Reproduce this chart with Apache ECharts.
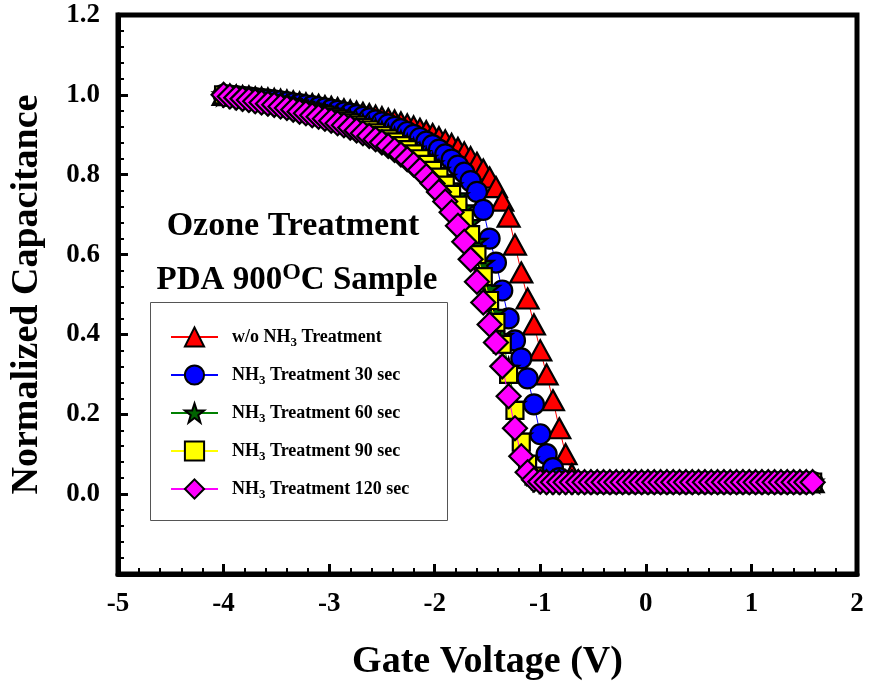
<!DOCTYPE html>
<html>
<head>
<meta charset="utf-8">
<script src="https://cdn.jsdelivr.net/npm/echarts@6/dist/echarts.min.js"></script>
<style>html,body{margin:0;padding:0;background:#fff}#c{width:869px;height:686px}</style>
</head>
<body>
<div id="c"></div>
<script>
// Gate voltage sweep (V)
const voltage = [
 -4.00,-3.94,-3.88,-3.82,-3.76,-3.70,-3.64,-3.58,-3.52,-3.46,
 -3.40,-3.34,-3.28,-3.22,-3.16,-3.10,-3.04,-2.98,-2.92,-2.86,
 -2.80,-2.74,-2.68,-2.62,-2.56,-2.50,-2.44,-2.38,-2.32,-2.26,
 -2.20,-2.14,-2.08,-2.02,-1.96,-1.90,-1.84,-1.78,-1.72,-1.66,
 -1.60,-1.54,-1.48,-1.42,-1.36,-1.30,-1.24,-1.18,-1.12,-1.06,
 -1.00,-0.94,-0.88,-0.82,-0.76,-0.70,-0.64,-0.58,-0.52,-0.46,
 -0.40,-0.34,-0.28,-0.22,-0.16,-0.10,-0.04,0.02,0.08,0.14,
 0.20,0.26,0.32,0.38,0.44,0.50,0.56,0.62,0.68,0.74,
 0.80,0.86,0.92,0.98,1.04,1.10,1.16,1.22,1.28,1.34,
 1.40,1.46,1.52,1.58
];
// Normalized capacitance, w/o NH3 treatment
const capWithout = [
 1.000,0.999,0.998,0.997,0.996,0.994,0.993,0.991,0.990,0.988,
 0.986,0.984,0.981,0.979,0.977,0.975,0.972,0.970,0.967,0.964,
 0.961,0.958,0.955,0.952,0.948,0.944,0.940,0.936,0.931,0.926,
 0.921,0.915,0.909,0.902,0.894,0.886,0.877,0.867,0.856,0.844,
 0.830,0.813,0.793,0.769,0.735,0.695,0.625,0.555,0.490,0.425,
 0.360,0.300,0.235,0.165,0.100,0.050,0.034,0.031,0.030,0.030,
 0.030,0.030,0.030,0.030,0.030,0.030,0.030,0.030,0.030,0.030,
 0.030,0.030,0.030,0.030,0.030,0.030,0.030,0.030,0.030,0.030,
 0.030,0.030,0.030,0.030,0.030,0.030,0.030,0.030,0.030,0.030,
 0.030,0.030,0.030,0.030
];
// NH3 treatment 30 sec
const cap30 = [
 1.000,0.998,0.997,0.995,0.994,0.992,0.990,0.988,0.986,0.984,
 0.982,0.979,0.977,0.974,0.972,0.969,0.966,0.963,0.960,0.956,
 0.953,0.949,0.945,0.941,0.936,0.931,0.926,0.920,0.914,0.907,
 0.900,0.892,0.883,0.874,0.863,0.851,0.838,0.823,0.805,0.784,
 0.757,0.712,0.640,0.580,0.510,0.440,0.385,0.340,0.290,0.225,
 0.150,0.100,0.065,0.040,0.032,0.030,0.030,0.030,0.030,0.030,
 0.030,0.030,0.030,0.030,0.030,0.030,0.030,0.030,0.030,0.030,
 0.030,0.030,0.030,0.030,0.030,0.030,0.030,0.030,0.030,0.030,
 0.030,0.030,0.030,0.030,0.030,0.030,0.030,0.030,0.030,0.030,
 0.030,0.030,0.030,0.030
];
// NH3 treatment 60 sec
const cap60 = [
 1.000,0.998,0.996,0.993,0.991,0.988,0.986,0.983,0.980,0.977,
 0.974,0.971,0.968,0.964,0.961,0.957,0.953,0.949,0.945,0.940,
 0.935,0.930,0.925,0.919,0.913,0.906,0.899,0.891,0.883,0.874,
 0.864,0.853,0.841,0.827,0.811,0.793,0.772,0.747,0.717,0.680,
 0.633,0.578,0.515,0.455,0.395,0.315,0.225,0.145,0.085,0.050,
 0.035,0.031,0.030,0.030,0.030,0.030,0.030,0.030,0.030,0.030,
 0.030,0.030,0.030,0.030,0.030,0.030,0.030,0.030,0.030,0.030,
 0.030,0.030,0.030,0.030,0.030,0.030,0.030,0.030,0.030,0.030,
 0.030,0.030,0.030,0.030,0.030,0.030,0.030,0.030,0.030,0.030,
 0.030,0.030,0.030,0.030
];
// NH3 treatment 90 sec
const cap90 = [
 1.000,0.997,0.995,0.992,0.989,0.987,0.984,0.981,0.978,0.975,
 0.972,0.968,0.965,0.961,0.957,0.953,0.949,0.944,0.940,0.935,
 0.930,0.924,0.918,0.912,0.905,0.898,0.890,0.882,0.873,0.863,
 0.852,0.840,0.826,0.811,0.794,0.774,0.751,0.724,0.690,0.650,
 0.600,0.545,0.485,0.430,0.375,0.300,0.210,0.130,0.075,0.045,
 0.033,0.030,0.030,0.030,0.030,0.030,0.030,0.030,0.030,0.030,
 0.030,0.030,0.030,0.030,0.030,0.030,0.030,0.030,0.030,0.030,
 0.030,0.030,0.030,0.030,0.030,0.030,0.030,0.030,0.030,0.030,
 0.030,0.030,0.030,0.030,0.030,0.030,0.030,0.030,0.030,0.030,
 0.030,0.030,0.030,0.030
];
// NH3 treatment 120 sec
const cap120 = [
 1.000,0.996,0.993,0.990,0.987,0.984,0.981,0.978,0.975,0.971,
 0.967,0.963,0.958,0.954,0.949,0.945,0.940,0.935,0.929,0.924,
 0.918,0.911,0.904,0.897,0.889,0.881,0.872,0.862,0.851,0.839,
 0.826,0.812,0.796,0.778,0.757,0.733,0.706,0.672,0.632,0.588,
 0.532,0.480,0.425,0.380,0.320,0.245,0.165,0.095,0.055,0.036,
 0.031,0.030,0.030,0.030,0.030,0.030,0.030,0.030,0.030,0.030,
 0.030,0.030,0.030,0.030,0.030,0.030,0.030,0.030,0.030,0.030,
 0.030,0.030,0.030,0.030,0.030,0.030,0.030,0.030,0.030,0.030,
 0.030,0.030,0.030,0.030,0.030,0.030,0.030,0.030,0.030,0.030,
 0.030,0.030,0.030,0.030
];
const seriesNames = ['w/o NH3 Treatment','NH3 Treatment 30 sec','NH3 Treatment 60 sec','NH3 Treatment 90 sec','NH3 Treatment 120 sec'];
const xTicks = [-5,-4,-3,-2,-1,0,1,2];
const yTicks = [0.0,0.2,0.4,0.6,0.8,1.0,1.2];

const FONT = '"Liberation Serif","Times New Roman",serif';
const STAR = 'path://M12,0 L14.9,8.5 L24,8.5 L16.7,13.9 L19.4,22.8 L12,17.3 L4.6,22.8 L7.3,13.9 L0,8.5 L9.1,8.5 Z';

const styles = [
  {data: capWithout, line:'#ff0000', fill:'#ff0000', symbol:'triangle', size:[22,20]},
  {data: cap30, line:'#0000ff', fill:'#0000ff', symbol:'circle', size:20},
  {data: cap60, line:'#008000', fill:'#006400', symbol:STAR, size:20},
  {data: cap90, line:'#ffff00', fill:'#ffff00', symbol:'rect', size:17},
  {data: cap120, line:'#ff00ff', fill:'#ff00ff', symbol:'diamond', size:24}
];

function pairs(ys){ return voltage.map((v,i)=>[v, ys[i]]); }

const chart = echarts.init(document.getElementById('c'), null, {renderer:'canvas'});
const option = {
  backgroundColor:'#fff',
  animation:false,
  grid:{left:118, right:12, top:15, bottom:111, show:true, borderColor:'#000', borderWidth:5, backgroundColor:'transparent'},
  xAxis:{
    type:'value', min:-5, max:2, interval:1,
    name:'Gate Voltage (V)', nameLocation:'middle', nameGap:69,
    nameTextStyle:{fontFamily:FONT, fontWeight:'bold', fontSize:38, color:'#000'},
    axisLine:{show:true, onZero:false, lineStyle:{color:'#000', width:5}},
    axisTick:{show:true, inside:true, length:10, lineStyle:{color:'#000', width:3}},
    minorTick:{show:true, splitNumber:5, length:6, lineStyle:{color:'#000', width:2}},
    splitLine:{show:false},
    axisLabel:{fontFamily:FONT, fontWeight:'bold', fontSize:27, color:'#000', margin:17,
      formatter:(v)=> xTicks.includes(Math.round(v)) ? String(Math.round(v)) : ''}
  },
  yAxis:{
    type:'value', min:-0.2, max:1.2, interval:0.2,
    name:'Normalized Capacitance', nameLocation:'middle', nameGap:72,
    nameTextStyle:{fontFamily:FONT, fontWeight:'bold', fontSize:38, color:'#000'},
    axisLine:{show:true, onZero:false, lineStyle:{color:'#000', width:5}},
    axisTick:{show:true, inside:true, length:10, lineStyle:{color:'#000', width:3}},
    minorTick:{show:true, splitNumber:5, length:6, lineStyle:{color:'#000', width:2}},
    splitLine:{show:false},
    axisLabel:{fontFamily:FONT, fontWeight:'bold', fontSize:27, color:'#000', margin:18,
      formatter:(v)=> v < -0.05 ? '' : v.toFixed(1)}
  },
  legend:{
    orient:'vertical', left:165, top:320, itemGap:13.5, z:10,
    itemWidth:47, itemHeight:24,
    data: seriesNames,
    textStyle:{fontFamily:FONT, fontWeight:'bold', fontSize:18, color:'#000', lineHeight:24,
      rich:{
        g:{width:9},
        b:{fontFamily:FONT, fontWeight:'bold', fontSize:18, color:'#000'},
        s:{fontFamily:FONT, fontWeight:'bold', fontSize:13, color:'#000', padding:[12,0,0,0]}
      }},
    formatter:(name)=>{
      const parts = name.split('NH3');
      if (parts.length === 1) return '{g|}{b|'+name+'}';
      return '{g|}{b|'+parts[0]+'NH}{s|3}{b|'+parts[1]+'}';
    }
  },
  graphic:[
    {type:'rect', left:150, top:302, z:1, shape:{width:297, height:218}, style:{fill:'#fff', stroke:'#555', lineWidth:1}},
    {type:'text', x:293, y:226, z:10, style:{text:'Ozone Treatment', font:'bold 34px '+FONT, fill:'#000', align:'center', verticalAlign:'middle'}},
    {type:'text', x:297, y:280, z:10, style:{text:'PDA 900{sup|O}C Sample', font:'bold 33px '+FONT, fill:'#000', align:'center', verticalAlign:'middle',
      rich:{sup:{font:'bold 24px '+FONT, fill:'#000', padding:[0,0,14,0]}}}}
  ],
  series: styles.map((s,i)=>({
    name: seriesNames[i], type:'line', data: pairs(s.data),
    symbol: s.symbol, symbolSize: s.size, showAllSymbol:true,
    lineStyle:{color:s.line, width:1},
    itemStyle:{color:s.fill, borderColor:'#000', borderWidth:2.2},
    z: 2+i
  }))
};
chart.setOption(option);
</script>
</body>
</html>
